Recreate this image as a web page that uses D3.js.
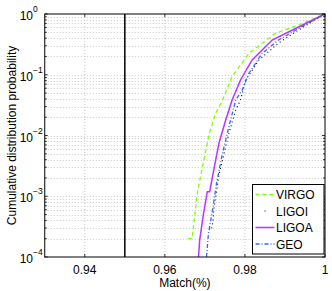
<!DOCTYPE html>
<html>
<head>
<meta charset="utf-8">
<script src="https://cdn.jsdelivr.net/npm/d3@7"></script>
<style>
body { margin: 0; background: white; }
svg text { font-family: "Liberation Sans", Arial, sans-serif; }
</style>
</head>
<body>
<div id="chart"></div>
<script>
// series: match value vs cumulative probability
let virgoX = [0.9657, 0.9668, 0.9681, 0.9694, 0.9711, 0.9727, 0.9744, 0.9768, 0.9810, 0.9876, 0.9934, 1.0];
let virgoY = [2e-4, 2e-4, 1.12e-3, 3.06e-3, 1.09e-2, 2.32e-2, 3.84e-2, 0.093, 0.225, 0.481, 0.659, 1];

let ligoiX = [0.9717, 0.9720, 0.9723, 0.9729, 0.9735, 0.9744, 0.9760, 0.9777, 0.9789, 0.9802, 0.9835, 0.9884, 0.9942, 1.0];
let ligoiY = [2.97e-4, 3.8e-4, 6.65e-4, 1.19e-3, 2.24e-3, 3.95e-3, 0.0109, 0.0263, 0.0384, 0.082, 0.175, 0.333, 0.589, 1];

let ligoaX = [0.9684, 0.9687, 0.9696, 0.9706, 0.9712, 0.9719, 0.9735, 0.9752, 0.9768, 0.9789, 0.9818, 0.9868, 0.9934, 1.0];
let ligoaY = [1e-4, 1.9e-4, 4.9e-4, 1.19e-3, 1.19e-3, 2.1e-3, 7.4e-3, 0.018, 0.0384, 0.082, 0.175, 0.373, 0.611, 1];

let geoX = [0.9704, 0.9709, 0.9719, 0.9729, 0.9744, 0.9760, 0.9777, 0.9793, 0.9810, 0.9843, 0.9884, 0.9942, 1.0];
let geoY = [1e-4, 2.45e-4, 5.9e-4, 1.63e-3, 5.1e-3, 0.014, 0.0384, 0.056, 0.106, 0.225, 0.373, 0.618, 1];

let xTicks = [0.94, 0.96, 0.98, 1];
let yTicks = [1e-4, 1e-3, 1e-2, 1e-1, 1];
let thresholdX = 0.95;

let seriesNames = ['VIRGO', 'LIGOI', 'LIGOA', 'GEO'];

let series = [
    {name: seriesNames[0], xs: virgoX, ys: virgoY, color: '#80ff00', dash: '4,3', width: 1.3},
    {name: seriesNames[1], xs: ligoiX, ys: ligoiY, color: '#000000', dash: '1,3', width: 1.1},
    {name: seriesNames[2], xs: ligoaX, ys: ligoaY, color: '#bb33ff', dash: null, width: 1.5},
    {name: seriesNames[3], xs: geoX, ys: geoY, color: '#3366ff', dash: '4,2,1,2', width: 1.3}
];

let dim = {'width': 332, 'height': 291};
let m = {left: 44.75, right: 325, top: 14, bottom: 257};

let svg = d3.select('#chart').append('svg')
    .attr('width', dim.width)
    .attr('height', dim.height)
    .style('background', 'white');

let x = d3.scaleLinear().domain([0.93, 1]).range([m.left, m.right]);
let y = d3.scaleLog().domain([1e-4, 1]).range([m.bottom, m.top]);

// grid
let minorY = [];
for (let e = -4; e < 0; e++) {
    for (let k = 1; k < 10; k++) minorY.push(k * Math.pow(10, e));
}
let grid = svg.append('g');
grid.selectAll('line.gy')
    .data(minorY.filter(v => v > 1e-4))
    .join('line')
    .attr('x1', m.left).attr('x2', m.right)
    .attr('y1', d => Math.round(y(d)) + 0.5).attr('y2', d => Math.round(y(d)) + 0.5)
    .attr('stroke', '#bbbbbb').attr('stroke-width', 0.8)
    .attr('stroke-dasharray', '1,2');
grid.selectAll('line.gx')
    .data(xTicks.filter(v => v < 1))
    .join('line')
    .attr('x1', d => x(d)).attr('x2', d => x(d))
    .attr('y1', m.top).attr('y2', m.bottom)
    .attr('stroke', '#bbbbbb').attr('stroke-width', 0.8)
    .attr('stroke-dasharray', '1,2');

// threshold line
svg.append('line')
    .attr('x1', x(thresholdX)).attr('x2', x(thresholdX))
    .attr('y1', m.top).attr('y2', m.bottom)
    .attr('stroke', 'black').attr('stroke-width', 1.5);

// curves
let line = d3.line().x(d => x(d[0])).y(d => y(d[1]));
series.forEach(function(s) {
    let pts = s.xs.map((v, i) => [v, s.ys[i]]);
    svg.append('path')
        .datum(pts)
        .attr('d', line)
        .attr('fill', 'none')
        .attr('stroke', s.color)
        .attr('stroke-width', s.width)
        .attr('stroke-dasharray', s.dash);
});

// axes box
svg.append('rect')
    .attr('x', m.left).attr('y', m.top)
    .attr('width', m.right - m.left).attr('height', m.bottom - m.top)
    .attr('fill', 'none').attr('stroke', 'black').attr('stroke-width', 1);

// ticks (inward)
let ticks = svg.append('g').attr('stroke', 'black').attr('stroke-width', 0.8);
xTicks.forEach(function(t) {
    ticks.append('line').attr('x1', x(t)).attr('x2', x(t)).attr('y1', m.bottom).attr('y2', m.bottom - 3);
    ticks.append('line').attr('x1', x(t)).attr('x2', x(t)).attr('y1', m.top).attr('y2', m.top + 3);
});
minorY.concat([1]).forEach(function(t) {
    let len = yTicks.includes(t) ? 3 : 2;
    ticks.append('line').attr('x1', m.left).attr('x2', m.left + len).attr('y1', y(t)).attr('y2', y(t));
    ticks.append('line').attr('x1', m.right).attr('x2', m.right - len).attr('y1', y(t)).attr('y2', y(t));
});

// tick labels
svg.append('g').selectAll('text')
    .data(xTicks)
    .join('text')
    .attr('x', d => x(d))
    .attr('y', 274)
    .attr('text-anchor', 'middle')
    .attr('font-size', 12)
    .text(d => d3.format('')(d));

let yl = svg.append('g').selectAll('text')
    .data(yTicks)
    .join('text')
    .attr('x', 33)
    .attr('y', d => y(d) + 6)
    .attr('text-anchor', 'end')
    .attr('font-size', 12);
yl.text('10');
svg.append('g').selectAll('text')
    .data(yTicks)
    .join('text')
    .attr('x', 33)
    .attr('y', d => y(d) - 2)
    .attr('font-size', 8.5)
    .text(d => Math.round(Math.log10(d)) === 0 ? '0' : '\u2212' + Math.abs(Math.round(Math.log10(d))));

// axis titles
svg.append('text')
    .attr('x', (m.left + m.right) / 2)
    .attr('y', 287)
    .attr('text-anchor', 'middle')
    .attr('font-size', 12)
    .text('Match(%)');
svg.append('text')
    .attr('transform', 'translate(16,' + ((m.top + m.bottom) / 2) + ') rotate(-90)')
    .attr('text-anchor', 'middle')
    .attr('font-size', 12)
    .text('Cumulative distribution probability');

// legend
let lg = svg.append('g').attr('transform', 'translate(252.5,184.5)');
lg.append('rect')
    .attr('width', 71.5).attr('height', 69.5)
    .attr('fill', 'white').attr('stroke', 'black').attr('stroke-width', 1);
series.forEach(function(s, i) {
    let yy = 10 + i * 16.5;
    lg.append('line')
        .attr('x1', 3).attr('x2', 22)
        .attr('y1', yy).attr('y2', yy)
        .attr('stroke', s.color)
        .attr('stroke-width', s.width)
        .attr('stroke-dasharray', s.name === 'LIGOI' ? '1,20' : s.dash)
        .attr('stroke-dashoffset', s.name === 'LIGOI' ? -9 : 0);
    lg.append('text')
        .attr('x', 23.5).attr('y', yy + 4.5)
        .attr('font-size', 12)
        .text(s.name);
});
</script>
</body>
</html>
